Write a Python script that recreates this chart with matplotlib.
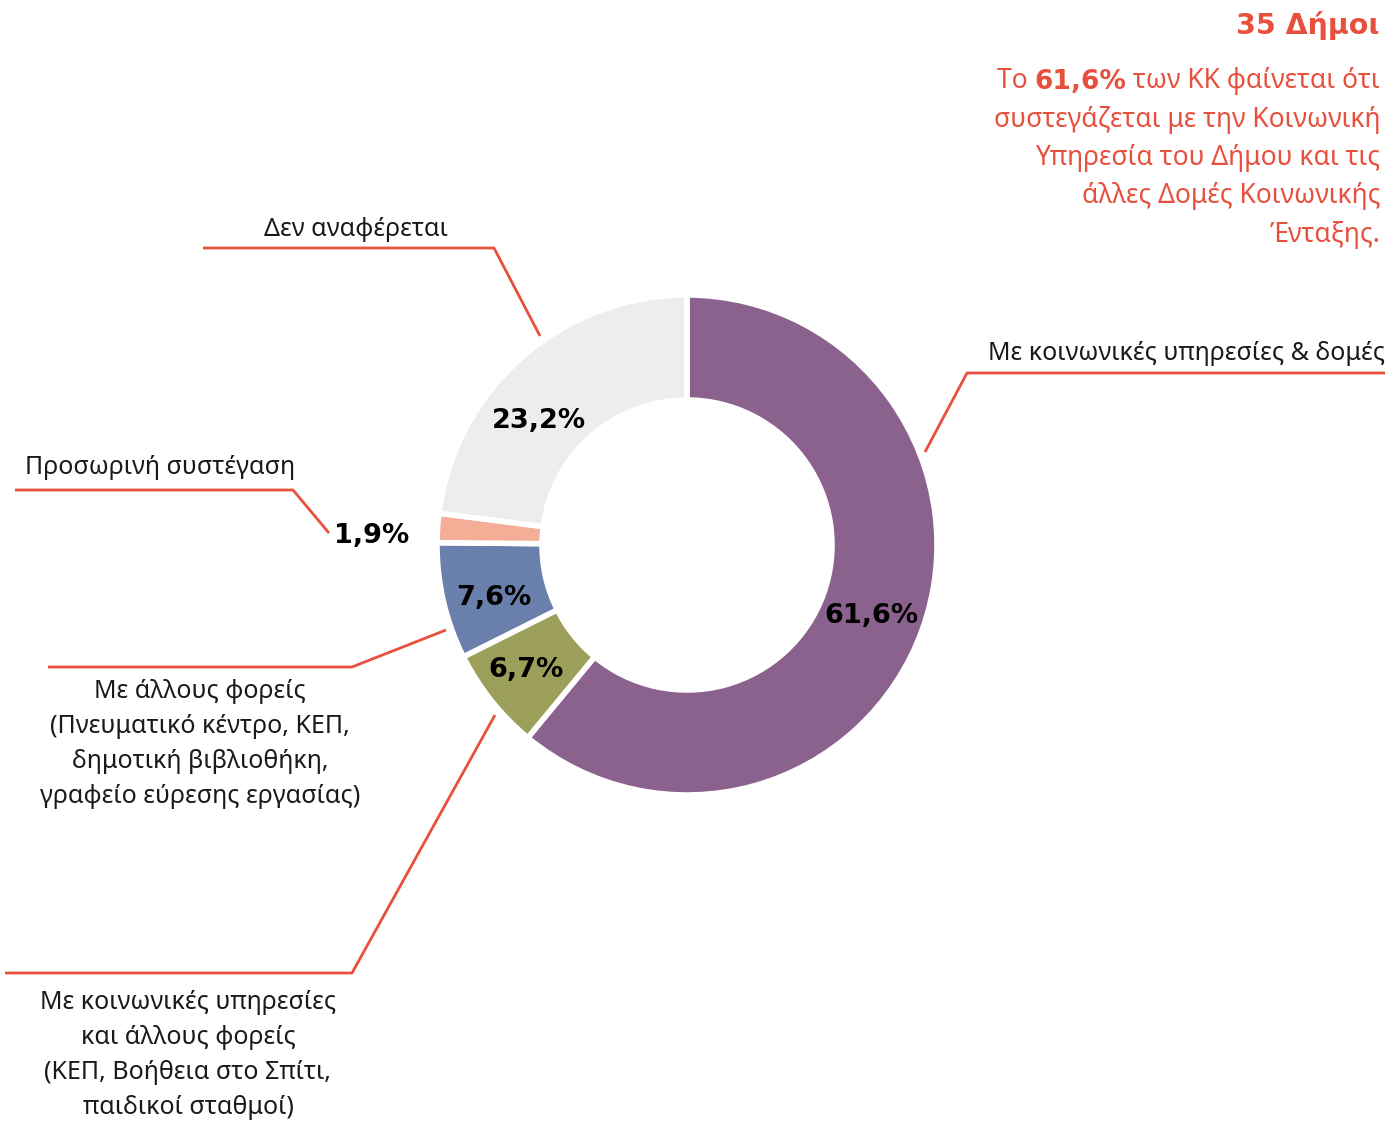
import numpy as np
import matplotlib
matplotlib.use("Agg")
import matplotlib.pyplot as plt

plt.rcParams['font.family'] = ['Noto Sans', 'DejaVu Sans']
BOLD = ['DejaVu Sans']

# data
categories = ["Με κοινωνικές υπηρεσίες & δομές",
              "Με κοινωνικές υπηρεσίες\nκαι άλλους φορείς\n(ΚΕΠ, Βοήθεια στο Σπίτι,\nπαιδικοί σταθμοί)",
              "Με άλλους φορείς\n(Πνευματικό κέντρο, ΚΕΠ,\nδημοτική βιβλιοθήκη,\nγραφείο εύρεσης εργασίας)",
              "Προσωρινή συστέγαση",
              "Δεν αναφέρεται"]
values = [61.6, 6.7, 7.6, 1.9, 23.2]
colors = ["#8B628D", "#9C9F5A", "#6A80AC", "#F4AE98", "#EDEDED"]
value_labels = ["61,6%", "6,7%", "7,6%", "1,9%", "23,2%"]

RED = "#E8503E"
W, H = 1392, 1126

fig = plt.figure(figsize=(W / 100, H / 100), dpi=100)
ax = fig.add_axes([0, 0, 1, 1])

cx, cy = 687, H - 545
wedges, _ = ax.pie(values, colors=colors, startangle=90, counterclock=False,
                   center=(cx, cy), radius=250, frame=True,
                   wedgeprops=dict(width=105, edgecolor='white', linewidth=4))
ax.set_xlim(0, W)
ax.set_ylim(0, H)
ax.set_aspect('equal')
ax.axis('off')

# percent labels (layout positions in pixels, y from top)
pct_pos = [(871, 616), (526, 670), (494, 598), (372, 536), (539, 421)]
for lab, (x, y) in zip(value_labels, pct_pos):
    ax.text(x, H - y, lab, ha='center', va='center', fontsize=19.5,
            fontweight='bold', family=BOLD, color='black')

# leader lines
leaders = [
    [(1385, 373), (967, 373), (925, 452)],
    [(5, 973), (352, 973), (495, 715)],
    [(48, 667), (352, 667), (446, 630)],
    [(15, 490), (293, 490), (329, 533)],
    [(203, 248), (494, 248), (540, 336)],
]
for pts in leaders:
    xs = [p[0] for p in pts]
    ys = [H - p[1] for p in pts]
    ax.plot(xs, ys, color=RED, lw=2, solid_capstyle='butt')

# category labels
lab_pos = [(1385, 354, 'right', 'center'),
           (188, 1003, 'center', 'top'),
           (200, 692, 'center', 'top'),
           (25, 467, 'left', 'center'),
           (356, 230, 'center', 'center')]
for lab, (x, y, ha, va) in zip(categories, lab_pos):
    yy = H - y
    if va == 'top':
        yy = H - y + 13
    ax.text(x, yy, lab, ha=ha, va='center' if va == 'center' else 'top',
            fontsize=18, color='#1a1a1a', linespacing=1.52,
            multialignment='center')

# header text on the right
ax.text(1380, H - 25, "35 Δήμοι", ha='right', va='center', fontsize=20.5,
        fontweight='bold', family=BOLD, color=RED)

t1 = ax.text(1380, H - 88, " των ΚΚ φαίνεται ότι", ha='right', va='baseline',
             fontsize=19, color=RED)
t2 = ax.annotate("61,6%", xy=(0, 0), xycoords=t1, ha='right', va='bottom',
                 fontsize=19, fontweight='bold', family=BOLD, color=RED)
ax.annotate("Το ", xy=(0, 0), xycoords=t2, ha='right', va='bottom',
            fontsize=19, color=RED)

rest = ["συστεγάζεται με την Κοινωνική",
        "Υπηρεσία του Δήμου και τις",
        "άλλες Δομές Κοινωνικής",
        "Ένταξης."]
for i, line in enumerate(rest):
    ax.text(1380, H - 88 - 38.5 * (i + 1), line, ha='right', va='baseline',
            fontsize=19, color=RED)

fig.savefig("out.png", dpi=100, facecolor='white')
